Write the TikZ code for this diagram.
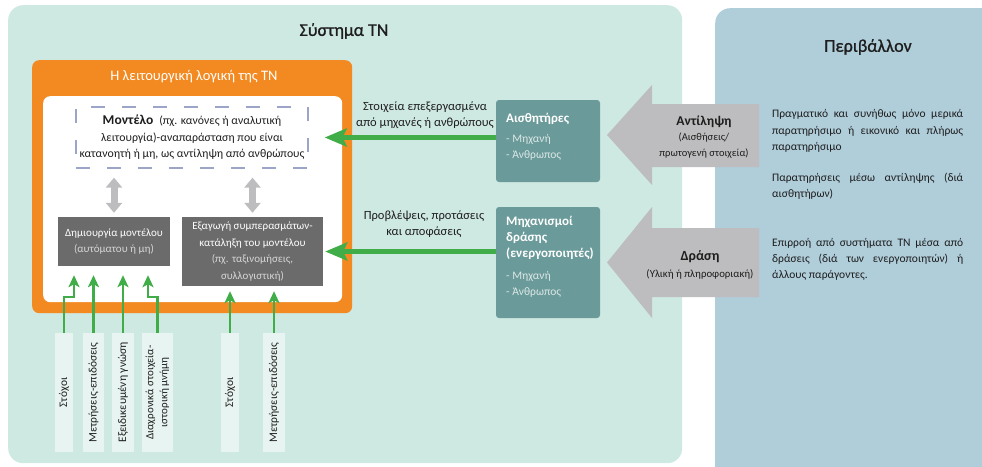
\documentclass[tikz,border=0pt]{standalone}
\usepackage{fontspec}
\setmainfont{Carlito}
\newfontfamily\headfont[FakeBold=1]{Carlito}
\usetikzlibrary{arrows.meta,calc}

\hyphenpenalty=10000
\exhyphenpenalty=10000

\definecolor{sysbg}{HTML}{CEE8E2}
\definecolor{envbg}{HTML}{B0CDDA}
\definecolor{orng}{HTML}{F28A21}
\definecolor{tealbox}{HTML}{6A9A99}
\definecolor{darkbox}{HTML}{6B6B6B}
\definecolor{arrowgray}{HTML}{BDBDBF}
\definecolor{flowgreen}{HTML}{41AD49}
\definecolor{stripbg}{HTML}{E8F4F1}
\definecolor{dashblue}{HTML}{9CA4C8}
\definecolor{ink}{HTML}{1E1E1E}
\definecolor{softtxt}{HTML}{DCE8E7}
\definecolor{greytxt}{HTML}{D6D6D6}

\newcommand\fsz[2]{\fontsize{#1}{#2}\selectfont}

\tikzset{
  panel/.style={rounded corners=15pt, inner sep=0pt, anchor=north west},
  frame/.style={rounded corners=7pt, inner sep=0pt, anchor=north west},
  darkbx/.style={fill=darkbox, inner sep=0pt, align=center, text=white, font=\fsz{11}{16.5}},
  tealbx/.style={fill=tealbox, rounded corners=3pt, inner sep=0pt},
  tealtext/.style={anchor=north west, align=left, inner sep=0pt, text=softtxt, font=\fsz{11.5}{16}},
  strip/.style={fill=stripbg, rotate=90, minimum width=119pt, inner sep=0pt, align=center, text=ink, font=\fsz{11.5}{14.5}},
  feed/.style={draw=flowgreen, line width=2.6pt, -{Stealth[length=12pt,width=11pt,inset=3pt]}},
  bigflow/.style={draw=flowgreen, line width=5pt, -{Stealth[length=22pt,width=18pt,inset=4pt]}},
  twoway/.style={draw=arrowgray, line width=7pt, {Triangle[length=10pt,width=16pt]}-{Triangle[length=10pt,width=16pt]}},
  flowlabel/.style={align=center, text=ink, font=\fsz{12.5}{16}},
  envtext/.style={anchor=north west, text width=191pt, align=justify, inner sep=0pt, text=ink, font=\fsz{11.5}{16.3}},
}

\begin{document}
\begin{tikzpicture}[x=1pt,y=-1pt]
\useasboundingbox (0,0) rectangle (982,466);
\fill[white] (0,0) rectangle (982,466);

% background panels
\node[panel, fill=sysbg, minimum width=674pt, minimum height=458pt] (sys) at (8,5) {};
\node[panel, fill=envbg, minimum width=290pt, minimum height=480pt] (env) at (715,8) {};
\node[font=\headfont\fsz{18}{20}, text=ink] (systitle) at (344,31) {Σύστημα TN};
\node[font=\headfont\fsz{18}{20}, text=ink] (envtitle) at (868,47) {Περιβάλλον};

% functional logic block
\node[frame, fill=orng, minimum width=320pt, minimum height=253pt] (logic) at (32,60) {};
\node[font=\fsz{14.5}{16}, text=white] (logictitle) at (194,77) {Η λειτουργική λογική της TN};
\node[frame, fill=white, minimum width=299pt, minimum height=206pt] (inner) at (43,96) {};

% model
\node[draw=dashblue, line width=1.3pt, dash pattern=on 14pt off 17pt, minimum width=232pt, minimum height=61pt,
      align=center, text=ink, font=\fsz{11.8}{16.5}, inner sep=0pt] (model) at (192,137.5)
  {{\bfseries\fontsize{13.5}{16.5}\selectfont Μοντέλο}\enspace(πχ. κανόνες ή αναλυτική\\λειτουργία)-αναπαράσταση που είναι\\κατανοητή ή μη, ως αντίληψη από ανθρώπους};

\node[darkbx, minimum width=112pt, minimum height=49pt] (build) at (114,241.5)
  {Δημιουργία μοντέλου\\{\color{greytxt}(αυτόματου ή μη)}};
\node[darkbx, minimum width=141pt, minimum height=69pt] (infer) at (252.5,251.5)
  {Εξαγωγή συμπερασμάτων-\\κατάληξη του μοντέλου\\{\color{greytxt}(πχ. ταξινομήσεις,}\\{\color{greytxt}συλλογιστική)}};

\draw[twoway, shorten <=9pt, shorten >=4pt] (build.north |- model.south) -- (build.north);
\draw[twoway, shorten <=9pt, shorten >=4pt] (infer.north |- model.south) -- (infer.north);

% sensors and actuators
\node[tealbx, minimum width=104pt, minimum height=82pt] (sensors) at (548,141) {};
\node[tealbx, minimum width=104pt, minimum height=111pt] (actuators) at (548,262.5) {};
\node[tealtext] (sensorstext) at (506,113)
  {{\bfseries\color{white}\fontsize{13}{16}\selectfont Αισθητήρες}\\[4pt]- Μηχανή\\- Άνθρωπος};
\node[tealtext] (actuatorstext) at (506,216)
  {{\bfseries\color{white}\fontsize{13}{16.5}\selectfont Μηχανισμοί}\\{\bfseries\color{white}\fontsize{13}{16.5}\selectfont δράσης}\\{\bfseries\color{white}\fontsize{13}{16.5}\selectfont (ενεργοποιητές)}\\[6pt]- Μηχανή\\- Άνθρωπος};

\draw[bigflow, shorten >=16pt] (sensors.west |- model.east) -- (model.east);
\draw[bigflow, shorten >=2pt] (actuators.west |- infer.east) -- (infer.east);
\node[flowlabel] (proclabel) at (425,115) {Στοιχεία επεξεργασμένα\\από μηχανές ή ανθρώπους};
\node[flowlabel] (declabel) at (424,224) {Προβλέψεις, προτάσεις\\και αποφάσεις};

% perception and action block arrows
\fill[arrowgray] (607,135) -- (652,85) -- (652,104) -- (759,104) -- (759,167) -- (652,167) -- (652,185) -- cycle;
\fill[arrowgray] (607,262.5) -- (652,207) -- (652,228) -- (759,228) -- (759,297) -- (652,297) -- (652,318) -- cycle;
\node[align=center, text=ink, font=\fsz{10.5}{15.5}] (perclabel) at (704,137)
  {{\bfseries\fontsize{13.5}{15.5}\selectfont Αντίληψη}\\(Αισθήσεις/\\πρωτογενή στοιχεία)};
\node[align=center, text=ink, font=\fsz{10.8}{17}] (actlabel) at (700,264.5)
  {{\bfseries\fontsize{14}{17}\selectfont Δράση}\\(Υλική ή πληροφοριακή)};

% environment descriptions
\node[envtext] (envreal) at (772,109.5)
  {Πραγματικό και συνήθως μόνο μερικά\linebreak παρατηρήσιμο ή εικονικό και πλήρως\linebreak παρατηρήσιμο};
\node[envtext] (envobs) at (772,173)
  {Παρατηρήσεις μέσω αντίληψης (διά\linebreak αισθητήρων)};
\node[envtext] (envinf) at (772,238)
  {Επιρροή από συστήματα TN μέσα από\linebreak δράσεις (διά των ενεργοποιητών) ή\linebreak άλλους παράγοντες.};

% inputs
\node[strip, minimum height=18pt] (goalsa) at (64,392.5) {Στόχοι};
\node[strip, minimum height=21pt] (metricsa) at (93.5,392.5) {Μετρήσεις-επιδόσεις};
\node[strip, minimum height=22pt] (expert) at (123,392.5) {Εξειδικευμένη γνώση};
\node[strip, minimum height=31pt, font=\fsz{11}{14}] (history) at (157.5,392.5) {Διαχρονικά στοιχεία-\\ιστορική μνήμη};
\node[strip, minimum height=18pt] (goalsb) at (230,392.5) {Στόχοι};
\node[strip, minimum height=22pt] (metricsb) at (274,392.5) {Μετρήσεις-επιδόσεις};

\draw[feed] (goalsa.east) -- ++(0,-36) -| ([xshift=-40pt,yshift=-9pt]build.south);
\draw[feed, shorten >=9pt] (metricsa.east) -- (metricsa.east |- build.south);
\draw[feed, shorten >=9pt] (expert.east) -- (expert.east |- build.south);
\draw[feed] (history.east) -- ++(0,-36) -| ([xshift=34pt,yshift=-9pt]build.south);
\draw[feed, shorten >=5pt] (goalsb.east) -- (goalsb.east |- infer.south);
\draw[feed, shorten >=5pt] (metricsb.east) -- (metricsb.east |- infer.south);
\end{tikzpicture}
\end{document}
